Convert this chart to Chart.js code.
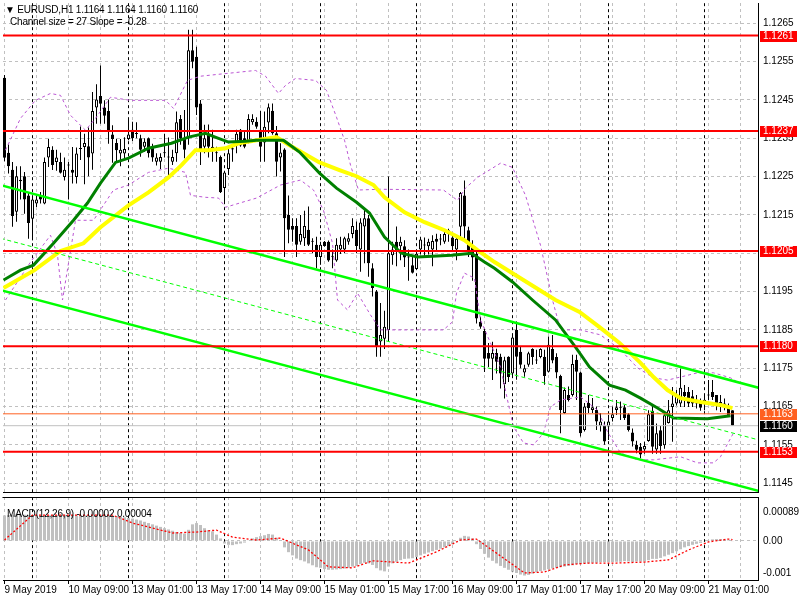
<!DOCTYPE html>
<html><head><meta charset="utf-8">
<script src="https://cdn.jsdelivr.net/npm/chart.js@4.4.1/dist/chart.umd.min.js"></script>
<style>
html,body{margin:0;padding:0;background:#fff;}
#wrap{position:relative;width:800px;height:600px;overflow:hidden;background:#fff;}
canvas{position:absolute;left:0;}
#c1{top:0;} #c2{top:496px;}
.t{position:absolute;font-family:"Liberation Sans",Arial,sans-serif;font-size:10px;white-space:pre;color:#000;line-height:12px;letter-spacing:-0.2px;}
</style></head><body>
<div id="wrap">
<canvas id="c1" width="800" height="496"></canvas>
<canvas id="c2" width="800" height="104"></canvas>
<div class="t" style="left:5px;top:4px">▼ EURUSD,H1 1.1164 1.1164 1.1160 1.1160</div>
<div class="t" style="left:10px;top:16px">Channel size = 27 Slope = -0.28</div>
<div class="t" style="left:7px;top:508px">MACD(12,26,9) -0.00002 0.00004</div>
</div>
<script>
// ---------- DATA (EURUSD H1, bar 0 = 9 May 2019 17:00) ----------
const openP = [
1.12508,1.12312,1.12268,1.12158,1.12242,1.12251,1.12201,1.12140,1.12180,1.12200,
1.12180,1.12300,1.12320,1.12288,1.12288,1.12249,1.12279,1.12268,1.12249,1.12322,
1.12327,1.12329,1.12310,1.12430,1.12460,1.12430,1.12421,1.12360,1.12338,1.12310,
1.12310,1.12348,1.12372,1.12362,1.12350,1.12328,1.12350,1.12328,1.12289,1.12289,
1.12311,1.12300,1.12289,1.12311,1.12400,1.12350,1.12350,1.12580,1.12563,1.12441,
1.12328,1.12362,1.12324,1.12311,1.12301,1.12220,1.12270,1.12324,1.12331,1.12372,
1.12350,1.12340,1.12392,1.12393,1.12372,1.12339,1.12391,1.12422,1.12363,1.12300,
1.12321,1.12150,1.12121,1.12121,1.12080,1.12089,1.12111,1.12080,1.12072,1.12040,
1.12080,1.12080,1.12041,1.12031,1.12060,1.12060,1.12080,1.12100,1.12111,1.12060,
1.12120,1.12141,1.12011,1.11950,1.11820,1.11827,1.11850,1.12045,1.12080,1.12068,
1.12068,1.12039,1.12019,1.12009,1.12060,1.12070,1.12068,1.12060,1.12088,1.12088,
1.12080,1.12110,1.12091,1.12060,1.12119,1.12201,1.12110,1.12071,1.12049,1.11871,
1.11847,1.11790,1.11775,1.11790,1.11780,1.11708,1.11780,1.11736,1.11850,1.11793,
1.11739,1.11759,1.11800,1.11772,1.11779,1.11780,1.11741,1.11800,1.11779,1.11730,
1.11633,1.11680,1.11680,1.11772,1.11739,1.11589,1.11659,1.11641,1.11641,1.11600,
1.11600,1.11598,1.11620,1.11641,1.11648,1.11648,1.11630,1.11582,1.11550,1.11545,
1.11538,1.11560,1.11639,1.11538,1.11588,1.11549,1.11607,1.11649,1.11658,1.11658,
1.11688,1.11688,1.11677,1.11668,1.11660,1.11658,1.11680,1.11688,1.11680,1.11662,
1.11658,1.11647,1.11640];
const highP = [
1.12515,1.12334,1.12288,1.12277,1.12277,1.12262,1.12210,1.12197,1.12201,1.12210,
1.12300,1.12349,1.12329,1.12320,1.12312,1.12300,1.12288,1.12327,1.12326,1.12381,
1.12362,1.12378,1.12471,1.12491,1.12540,1.12449,1.12451,1.12384,1.12349,1.12348,
1.12353,1.12399,1.12393,1.12392,1.12359,1.12350,1.12352,1.12336,1.12311,1.12311,
1.12362,1.12352,1.12320,1.12420,1.12411,1.12424,1.12633,1.12633,1.12589,1.12450,
1.12385,1.12386,1.12372,1.12328,1.12305,1.12265,1.12328,1.12328,1.12372,1.12374,
1.12367,1.12413,1.12413,1.12405,1.12422,1.12420,1.12441,1.12441,1.12382,1.12337,
1.12324,1.12201,1.12141,1.12141,1.12150,1.12161,1.12172,1.12089,1.12093,1.12080,
1.12082,1.12083,1.12060,1.12089,1.12093,1.12093,1.12102,1.12141,1.12133,1.12141,
1.12167,1.12150,1.12024,1.11954,1.11920,1.11900,1.12250,1.12080,1.12120,1.12093,
1.12084,1.12060,1.12040,1.12058,1.12093,1.12091,1.12088,1.12097,1.12101,1.12100,
1.12106,1.12114,1.12097,1.12097,1.12210,1.12240,1.12119,1.12084,1.12058,1.11884,
1.11853,1.11816,1.11819,1.11801,1.11788,1.11780,1.11781,1.11840,1.11872,1.11807,
1.11759,1.11793,1.11802,1.11798,1.11802,1.11798,1.11833,1.11837,1.11789,1.11733,
1.11700,1.11702,1.11785,1.11785,1.11741,1.11659,1.11680,1.11672,1.11650,1.11633,
1.11611,1.11628,1.11650,1.11667,1.11663,1.11654,1.11633,1.11593,1.11561,1.11555,
1.11558,1.11640,1.11653,1.11606,1.11599,1.11633,1.11667,1.11701,1.11693,1.11749,
1.11706,1.11701,1.11693,1.11680,1.11671,1.11680,1.11719,1.11719,1.11680,1.11680,
1.11671,1.11658,1.11640];
const lowP = [
1.12290,1.12258,1.12119,1.12132,1.12190,1.12153,1.12088,1.12084,1.12171,1.12180,
1.12178,1.12275,1.12267,1.12265,1.12258,1.12240,1.12190,1.12232,1.12232,1.12293,
1.12230,1.12251,1.12268,1.12388,1.12388,1.12388,1.12336,1.12286,1.12288,1.12277,
1.12297,1.12345,1.12343,1.12350,1.12302,1.12315,1.12300,1.12289,1.12279,1.12270,
1.12300,1.12254,1.12280,1.12289,1.12333,1.12298,1.12333,1.12533,1.12411,1.12280,
1.12311,1.12300,1.12289,1.12289,1.12207,1.12183,1.12254,1.12289,1.12311,1.12328,
1.12324,1.12337,1.12385,1.12375,1.12289,1.12289,1.12363,1.12359,1.12250,1.12263,
1.12040,1.12076,1.12080,1.12040,1.12072,1.12069,1.12069,1.12050,1.12011,1.12020,
1.12067,1.12028,1.12011,1.12028,1.12048,1.12050,1.12072,1.12089,1.12050,1.12002,
1.12024,1.11989,1.11937,1.11780,1.11780,1.11800,1.11820,1.12020,1.12016,1.12032,
1.12014,1.11978,1.11997,1.12006,1.12047,1.12040,1.12047,1.12016,1.12058,1.12071,
1.12075,1.12080,1.12058,1.12032,1.12088,1.12080,1.12040,1.11978,1.11867,1.11853,
1.11740,1.11753,1.11719,1.11736,1.11697,1.11671,1.11714,1.11730,1.11720,1.11750,
1.11728,1.11754,1.11759,1.11761,1.11776,1.11707,1.11739,1.11763,1.11724,1.11580,
1.11631,1.11663,1.11676,1.11667,1.11572,1.11585,1.11633,1.11633,1.11589,1.11585,
1.11550,1.11563,1.11611,1.11628,1.11615,1.11615,1.11585,1.11546,1.11528,1.11515,
1.11527,1.11558,1.11527,1.11527,1.11527,1.11540,1.11606,1.11558,1.11653,1.11649,
1.11649,1.11649,1.11649,1.11645,1.11639,1.11640,1.11667,1.11667,1.11640,1.11636,
1.11640,1.11627,1.11600];
const closeP = [
1.12299,1.12277,1.12147,1.12251,1.12238,1.12190,1.12129,1.12190,1.12190,1.12190,
1.12288,1.12327,1.12280,1.12300,1.12260,1.12268,1.12280,1.12260,1.12310,1.12323,
1.12338,1.12300,1.12421,1.12451,1.12440,1.12409,1.12369,1.12348,1.12319,1.12320,
1.12322,1.12360,1.12350,1.12361,1.12320,1.12341,1.12311,1.12300,1.12300,1.12301,
1.12313,1.12301,1.12301,1.12392,1.12350,1.12320,1.12580,1.12550,1.12430,1.12320,
1.12350,1.12328,1.12328,1.12312,1.12209,1.12261,1.12311,1.12321,1.12362,1.12331,
1.12328,1.12400,1.12400,1.12380,1.12328,1.12380,1.12431,1.12363,1.12289,1.12313,
1.12141,1.12111,1.12111,1.12072,1.12100,1.12121,1.12072,1.12081,1.12040,1.12072,
1.12069,1.12031,1.12042,1.12072,1.12072,1.12089,1.12089,1.12121,1.12069,1.12130,
1.12141,1.12024,1.11959,1.11807,1.11837,1.11858,1.12050,1.12060,1.12058,1.12080,
1.12039,1.12040,1.11999,1.12049,1.12086,1.12072,1.12080,1.12082,1.12080,1.12086,
1.12100,1.12100,1.12068,1.12088,1.12207,1.12120,1.12058,1.12039,1.11880,1.11858,
1.11775,1.11775,1.11790,1.11767,1.11736,1.11771,1.11727,1.11830,1.11780,1.11759,
1.11750,1.11789,1.11779,1.11770,1.11800,1.11730,1.11811,1.11770,1.11739,1.11641,
1.11693,1.11667,1.11761,1.11741,1.11580,1.11650,1.11646,1.11648,1.11611,1.11611,
1.11559,1.11611,1.11630,1.11648,1.11647,1.11620,1.11589,1.11559,1.11537,1.11525,
1.11547,1.11630,1.11545,1.11580,1.11547,1.11627,1.11640,1.11658,1.11680,1.11699,
1.11677,1.11658,1.11658,1.11658,1.11647,1.11668,1.11679,1.11675,1.11653,1.11649,
1.11649,1.11627,1.11600];

// moving averages / bands: [bar index, price]
const maYellow = [[-0.25,1.11959],[7.5,1.12006],[14,1.12056],[19.75,1.12076],[24,1.12118],[31,1.12175],[36,1.12209],[41,1.12248],[44.25,1.12280],[47.75,1.12319],[51,1.12319],[55.25,1.12324],[58.5,1.12337],[63,1.12345],[68,1.12353],[71.25,1.12332],[78.75,1.12287],[83.75,1.12267],[88,1.12251],[92.25,1.12228],[95,1.12196],[100,1.12157],[105,1.12131],[110,1.12110],[115,1.12084],[118.25,1.12058],[122.5,1.12027],[127,1.11998],[137.75,1.11928],[143.75,1.11897],[148.75,1.11857],[153.75,1.11816],[159,1.11764],[162.25,1.11727],[165.75,1.11693],[169,1.11672],[174,1.11662],[179,1.11654],[182,1.11646]];
const maGreen = [[-0.25,1.11980],[4,1.12006],[7.25,1.12019],[12.25,1.12076],[17.25,1.12136],[20.75,1.12181],[24,1.12233],[27.75,1.12287],[31,1.12298],[36,1.12324],[41.75,1.12337],[46,1.12353],[50.25,1.12363],[53.5,1.12350],[56,1.12340],[60.25,1.12342],[63,1.12345],[69.75,1.12345],[73.75,1.12314],[78.75,1.12259],[83,1.12220],[88,1.12183],[91.25,1.12155],[95,1.12092],[99.25,1.12050],[103.25,1.12040],[111.75,1.12045],[116.75,1.12050],[120,1.12027],[122.5,1.12011],[127,1.11975],[132,1.11928],[137.75,1.11876],[142.75,1.11805],[146.25,1.11753],[151.25,1.11706],[155.25,1.11693],[159,1.11672],[163.25,1.11646],[167.25,1.11620],[175.75,1.11618],[181.5,1.11626]];
const bandUpper = [[0.25,1.12319],[4,1.12402],[7.75,1.12449],[11.5,1.12467],[14,1.12462],[16.5,1.12410],[20.25,1.12371],[22.75,1.12402],[26.5,1.12457],[31.5,1.12449],[40.25,1.12449],[42.25,1.12428],[45.75,1.12501],[49,1.12512],[62.75,1.12527],[65.25,1.12512],[68.5,1.12467],[70.25,1.12488],[72.75,1.12506],[77.75,1.12501],[80.5,1.12475],[83,1.12405],[85,1.12345],[86.5,1.12280],[88.5,1.12215],[94,1.12217],[109.75,1.12215],[113.25,1.12188],[115.25,1.12220],[118.25,1.12248],[124,1.12285],[127,1.12274],[130.25,1.12201],[134,1.12071],[137,1.11928],[139,1.11850],[144,1.11850],[149,1.11837],[154,1.11798],[158.25,1.11751],[162.25,1.11725],[165.75,1.11719],[169,1.11727],[173.25,1.11738],[177.25,1.11738],[181.5,1.11725],[183.25,1.11714]];
const bandLower = [[0.25,1.11928],[6.5,1.12027],[11.5,1.12097],[13.25,1.12045],[14.5,1.11928],[17.75,1.12136],[22.25,1.12136],[27.25,1.12215],[31,1.12228],[36,1.12261],[41,1.12272],[45.25,1.12261],[46.5,1.12201],[50.25,1.12196],[53.5,1.12194],[55.25,1.12170],[63,1.12194],[69,1.12228],[74,1.12241],[77.25,1.12215],[79.75,1.12162],[82,1.12076],[83.25,1.11928],[85.75,1.11902],[88.25,1.11946],[91.5,1.11889],[94,1.11850],[109.75,1.11850],[112,1.11871],[113,1.11946],[115,1.11998],[117.5,1.11985],[119,1.11876],[121.5,1.11816],[124,1.11753],[125.75,1.11667],[127.25,1.11597],[129.75,1.11555],[132.25,1.11550],[134.75,1.11581],[136.5,1.11649],[139,1.11667],[144,1.11675],[148.25,1.11641],[150.75,1.11584],[154,1.11529],[158.25,1.11511],[162.25,1.11511],[169,1.11519],[173.25,1.11503],[177.25,1.11503],[179,1.11519],[182.25,1.11581]];

// regression channel (two end points each)
const chanUpper = [[-1,1.12228],[188.5,1.11699]];
const chanMid   = [[-1,1.12089],[188.5,1.11563]];
const chanLower = [[-1,1.11954],[188.5,1.11430]];

// horizontal levels
const levelValues = [1.12618,1.12369,1.12056,1.11807,1.11532];
const levelLabels = ["1.1261","1.1237","1.1205","1.1180","1.1153"];
const askLevel = 1.11631, askLabel = "1.1163";
const bidLevel = 1.11600, bidLabel = "1.1160";

const priceTicks = [1.1145,1.1155,1.1165,1.1175,1.1185,1.1195,1.1205,1.1215,1.1225,1.1235,1.1245,1.1255,1.1265];
const gridBars = [0,8,16,24,32,40,48,56,64,72,80,88,96,104,112,120,128,136,144,152,160,168,176,184];
const sepBars = [7,31,55,79,103,127,151,175];
const labelBars = [0,16,32,48,64,80,96,112,128,144,160,176];
const timeLabels = ["9 May 2019","10 May 09:00","13 May 01:00","13 May 17:00","14 May 09:00","15 May 01:00","15 May 17:00","16 May 09:00","17 May 01:00","17 May 17:00","20 May 09:00","21 May 01:00"];

// MACD(12,26,9)
const macdHist = [
0.00080,0.00081,0.00082,0.00083,0.00083,0.00082,0.00081,
0.00080,0.00080,0.00079,0.00079,0.00080,0.00081,0.00081,0.00082,0.00082,0.00081,0.00081,0.00080,0.00080,0.00080,0.00079,0.00079,0.00080,0.00082,0.00083,0.00082,0.00080,0.00078,0.00076,0.00074,0.00072,
0.00070,0.00067,0.00064,0.00060,0.00056,0.00052,0.00048,0.00044,0.00040,0.00036,0.00032,0.00028,0.00025,0.00023,
0.00035,0.00052,0.00056,0.00050,0.00040,0.00034,0.00030,0.00020,0.00008,
-0.00008,-0.00012,-0.00013,-0.00010,-0.00008,-0.00005,0.00002,0.00008,0.00012,0.00015,0.00018,0.00022,0.00020,0.00010,0.00003,
-0.00020,-0.00035,-0.00045,-0.00055,-0.00060,-0.00064,-0.00070,-0.00076,-0.00082,-0.00084,-0.00088,-0.00090,-0.00090,-0.00089,-0.00088,-0.00086,-0.00084,-0.00080,-0.00078,-0.00072,-0.00068,-0.00070,-0.00075,-0.00085,-0.00092,-0.00095,
-0.00080,-0.00070,-0.00065,-0.00060,-0.00056,-0.00055,-0.00054,-0.00050,-0.00045,-0.00040,-0.00036,-0.00032,-0.00028,-0.00024,-0.00020,-0.00016,-0.00010,-0.00002,0.00010,0.00016,0.00014,0.00008,
-0.00010,-0.00025,-0.00040,-0.00052,-0.00062,-0.00070,-0.00078,-0.00084,-0.00090,-0.00096,-0.00100,-0.00105,-0.00108,-0.00106,-0.00102,-0.00098,-0.00094,-0.00092,-0.00088,-0.00086,-0.00084,-0.00082,-0.00080,-0.00078,-0.00076,-0.00072,-0.00072,-0.00070,-0.00070,-0.00068,-0.00068,-0.00066,-0.00066,
-0.00066,-0.00066,-0.00065,-0.00065,-0.00063,-0.00064,-0.00066,-0.00064,-0.00064,-0.00064,-0.00060,-0.00056,-0.00056,-0.00053,-0.00048,-0.00043,-0.00038,-0.00032,-0.00026,-0.00020,-0.00016,-0.00012,-0.00009,-0.00006,-0.00002,0.00002,0.00005,0.00006,0.00006,0.00005,0.00004,-0.00002];
const macdSignal = [[0,0.00003],[7,0.00081],[27,0.00081],[32,0.00056],[42,0.00025],[48,0.00028],[53,0.00034],[57,0.00012],[63,0.00003],[69,0.00009],[76,-0.00028],[81,-0.00081],[87,-0.00084],[92,-0.00062],[101,-0.00069],[108,-0.00034],[114,0.00003],[118,0.00006],[123,-0.00038],[130,-0.00100],[135,-0.00097],[140,-0.00075],[146,-0.00069],[153,-0.00069],[160,-0.00066],[166,-0.00059],[171,-0.00028],[176,-0.00003],[181,0.00006],[182,0.00004]];
const macdTicks = [0.00089,0,-0.001];
const macdTickLabels = ["0.00089","0.00","-0.001"];

// ---------- CHART ----------
Chart.defaults.font.family = '"Liberation Sans", Arial, sans-serif';
Chart.defaults.font.size = 10;
Chart.defaults.color = '#000';
const xMin = -0.375, xMax = 188.375;
const idx = closeP.map((_, i) => i);
const pts = arr => arr.map(p => ({x: p[0], y: p[1]}));
const lineDs = (data, color, width, dash, order) => ({type:'line', data, borderColor: color, borderWidth: width, borderDash: dash || [], pointRadius: 0, tension: 0, fill: false, order});
const zeroPad = s => { s.paddingTop = 0; s.paddingBottom = 0; s.paddingLeft = 0; s.paddingRight = 0; };

const sepData = [];
sepBars.forEach(b => { sepData.push({x:b, y:1.13}, {x:b, y:1.11}, {x:b, y:null}); });
const hLine = v => [{x:-2, y:v}, {x:190, y:v}];

const boxPlugin = {
  id: 'boxes',
  afterDraw(chart) {
    const y = chart.scales.y, ctx = chart.ctx, x0 = chart.chartArea.right + 2;
    const draw = (v, txt, bg) => {
      const py = Math.round(y.getPixelForValue(v));
      ctx.fillStyle = bg; ctx.fillRect(x0, py - 5, 37, 11);
      ctx.fillStyle = '#fff'; ctx.font = '10px "Liberation Sans", Arial, sans-serif';
      ctx.textBaseline = 'middle'; ctx.textAlign = 'left';
      ctx.fillText(txt, x0 + 3, py + 0.5);
    };
    levelValues.forEach((v, k) => draw(v, levelLabels[k], '#ff0000'));
    draw(askLevel, askLabel, '#ff6020');
    draw(bidLevel, bidLabel, '#000000');
  }
};

new Chart(document.getElementById('c1'), {
  type: 'bar',
  data: { datasets: [
    {type:'bar', data: idx.map(i => ({x:i, y:[lowP[i], highP[i]]})), backgroundColor:'#000', borderWidth:0, barThickness:1, grouped:false, inflateAmount:0, order:30},
    {type:'bar', data: idx.map(i => ({x:i, y:[openP[i], closeP[i]]})), backgroundColor: idx.map(i => closeP[i] >= openP[i] ? '#ffffff' : '#000000'), borderColor:'#000', borderWidth:1, borderSkipped:false, barThickness:3, grouped:false, inflateAmount:0, minBarLength:1, order:29},
    lineDs(sepData, '#000', 1, [3,3], 31),
    lineDs(pts(bandUpper), '#ba55d3', 1, [3,3], 20),
    lineDs(pts(bandLower), '#ba55d3', 1, [3,3], 20),
    lineDs(pts(maYellow), '#ffff00', 4, [], 18),
    lineDs(pts(maGreen), '#008000', 3, [], 17),
    lineDs(pts(chanUpper), '#00ff00', 2.5, [], 15),
    lineDs(pts(chanLower), '#00ff00', 2.5, [], 15),
    lineDs(pts(chanMid), '#00ff00', 1, [4,3], 15),
    ...levelValues.map(v => lineDs(hLine(v), '#ff0000', 2, [], 12)),
    lineDs(hLine(askLevel), '#ff6020', 1, [], 13),
    lineDs(hLine(bidLevel), '#c0c0c0', 1, [], 14)
  ]},
  options: {
    responsive:false, animation:false, devicePixelRatio:1,
    layout: { padding: {left:3, top:3, right:0, bottom:0} },
    plugins: { legend:{display:false}, tooltip:{enabled:false} },
    scales: {
      x: { type:'linear', min:xMin, max:xMax, offset:false,
           afterBuildTicks: s => { s.ticks = gridBars.map(v => ({value:v})); },
           ticks: { display:false },
           grid: { color:'#c0c0c0', drawTicks:false, offset:false },
           border: { display:true, color:'#000', width:1, dash:[3,3] },
           afterFit: s => { s.height = 4; zeroPad(s); } },
      y: { type:'linear', position:'right', min:1.11427, max:1.12703,
           afterBuildTicks: s => { s.ticks = priceTicks.map(v => ({value:v})); },
           ticks: { padding:5, callback: v => v.toFixed(4), color:'#000', font:{size:10} },
           grid: { color:'#c0c0c0', drawTicks:false },
           border: { display:true, color:'#000', width:1, dash:[3,3] },
           afterFit: s => { s.width = 42; zeroPad(s); } }
    }
  },
  plugins: [boxPlugin]
});

const framePlugin = {
  id: 'frame',
  afterDraw(chart) {
    const a = chart.chartArea, ctx = chart.ctx;
    ctx.save(); ctx.strokeStyle = '#000'; ctx.lineWidth = 1;
    ctx.beginPath(); ctx.moveTo(a.left - 0.5, a.top + 0.5); ctx.lineTo(a.right, a.top + 0.5); ctx.stroke();
    ctx.restore();
  }
};

const sepData2 = [];
sepBars.forEach(b => { sepData2.push({x:b, y:0.01}, {x:b, y:-0.01}, {x:b, y:null}); });

new Chart(document.getElementById('c2'), {
  type: 'bar',
  data: { datasets: [
    lineDs(sepData2, '#000', 1, [3,3], 10),
    {type:'bar', data: macdHist.map((v, i) => ({x:i, y:v})), backgroundColor:'#c0c0c0', borderWidth:0, barThickness:3, grouped:false, inflateAmount:0, order:5},
    lineDs(pts(macdSignal), '#ff0000', 1.3, [2,2], 1)
  ]},
  options: {
    responsive:false, animation:false, devicePixelRatio:1,
    layout: { padding: {left:3, top:1, right:0, bottom:0} },
    plugins: { legend:{display:false}, tooltip:{enabled:false} },
    scales: {
      x: { type:'linear', min:xMin, max:xMax, offset:false,
           afterBuildTicks: s => { s.ticks = gridBars.map(v => ({value:v})); },
           ticks: { autoSkip:false, maxRotation:0, minRotation:0, align:'start', padding:0, color:'#000',
                    callback: v => { const k = labelBars.indexOf(v); return k >= 0 ? timeLabels[k] : ''; } },
           grid: { color:'#c0c0c0', drawTicks:true, tickLength:4, offset:false,
                   tickColor: c => (c.tick && labelBars.indexOf(c.tick.value) >= 0) ? '#000' : 'rgba(0,0,0,0)' },
           border: { display:true, color:'#000', width:1, dash:[3,3] },
           afterFit: s => { s.height = 20; zeroPad(s); } },
      y: { type:'linear', position:'right', min:-0.00122, max:0.001375,
           afterBuildTicks: s => { s.ticks = macdTicks.map(v => ({value:v})); },
           ticks: { padding:5, color:'#000', callback: (v) => { const k = macdTicks.indexOf(v); return k >= 0 ? macdTickLabels[k] : ''; } },
           grid: { drawTicks:false, color: c => (c.tick && c.tick.value === 0) ? '#c0c0c0' : 'rgba(0,0,0,0)' },
           border: { display:true, color:'#000', width:1, dash:[3,3] },
           afterFit: s => { s.width = 42; zeroPad(s); } }
    }
  },
  plugins: [framePlugin]
});
</script>
</body></html>
